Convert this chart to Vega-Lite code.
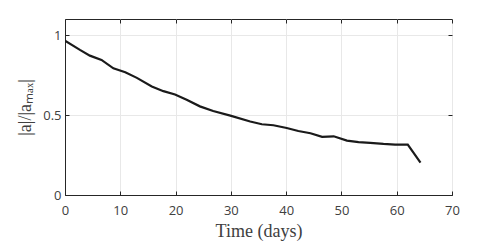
{
  "$schema": "https://vega.github.io/schema/vega-lite/v6.json",
  "autosize": "none",
  "width": 387,
  "height": 176,
  "padding": {"left": 65, "top": 19, "right": 47, "bottom": 55},
  "background": "white",
  "config": {
    "view": {"stroke": "#262626", "strokeWidth": 1},
    "axis": {
      "labelFont": "Open Sans",
      "labelFontSize": 13,
      "labelColor": "#404040",
      "domainColor": "#262626",
      "tickColor": "#262626",
      "gridColor": "#e8e8e8",
      "gridOpacity": 1,
      "titleFont": "Liberation Serif",
      "titleFontWeight": "normal",
      "titleColor": "#404040",
      "titleFontSize": 18
    }
  },
  "data": {"values": [
    {"t": 0, "v": 0.965},
    {"t": 2.7, "v": 0.907},
    {"t": 4.5, "v": 0.871},
    {"t": 6.6, "v": 0.844},
    {"t": 8.75, "v": 0.792},
    {"t": 10.9, "v": 0.767},
    {"t": 13.0, "v": 0.732},
    {"t": 15.7, "v": 0.678},
    {"t": 17.8, "v": 0.649},
    {"t": 19.9, "v": 0.628},
    {"t": 22.0, "v": 0.595},
    {"t": 24.4, "v": 0.554},
    {"t": 26.8, "v": 0.525},
    {"t": 29.9, "v": 0.496},
    {"t": 33.5, "v": 0.459},
    {"t": 35.6, "v": 0.442},
    {"t": 37.7, "v": 0.436},
    {"t": 40.1, "v": 0.419},
    {"t": 42.2, "v": 0.400},
    {"t": 44.4, "v": 0.386},
    {"t": 46.5, "v": 0.363},
    {"t": 48.6, "v": 0.367},
    {"t": 51.0, "v": 0.340},
    {"t": 53.1, "v": 0.330},
    {"t": 55.2, "v": 0.326},
    {"t": 57.6, "v": 0.319},
    {"t": 59.7, "v": 0.315},
    {"t": 62.0, "v": 0.315},
    {"t": 64.3, "v": 0.203}
  ]},
  "layer": [
    {
      "mark": {"type": "line", "color": "#1a1a1a", "strokeWidth": 2.2, "clip": true},
      "encoding": {
        "x": {"field": "t", "type": "quantitative",
              "scale": {"domain": [0, 70], "nice": false},
              "axis": {"values": [0,10,20,30,40,50,60,70], "title": "Time (days)",
                       "tickSize": -4, "labelPadding": 13, "titlePadding": 5,
                       "labelFlush": false, "grid": true}},
        "y": {"field": "v", "type": "quantitative",
              "scale": {"domain": [0, 1.1], "nice": false},
              "axis": {"values": [0, 0.5, 1], "format": "~g", "title": "|a|/|aₘₐₓ|",
                       "tickSize": -4, "labelPadding": 8, "titlePadding": 8,
                       "labelFlush": false, "grid": true}}
      }
    },
    {
      "mark": {"type": "line", "opacity": 0},
      "encoding": {
        "x": {"field": "t", "type": "quantitative",
              "scale": {"domain": [0, 70], "nice": false},
              "axis": {"orient": "top", "values": [0,10,20,30,40,50,60,70], "title": null,
                       "labels": false, "tickSize": -4, "grid": false, "domain": false}},
        "y": {"field": "v", "type": "quantitative",
              "scale": {"domain": [0, 1.1], "nice": false},
              "axis": {"orient": "right", "values": [0, 0.5, 1], "title": null,
                       "labels": false, "tickSize": -4, "grid": false, "domain": false}}
      }
    }
  ],
  "resolve": {"axis": {"x": "independent", "y": "independent"}}
}
